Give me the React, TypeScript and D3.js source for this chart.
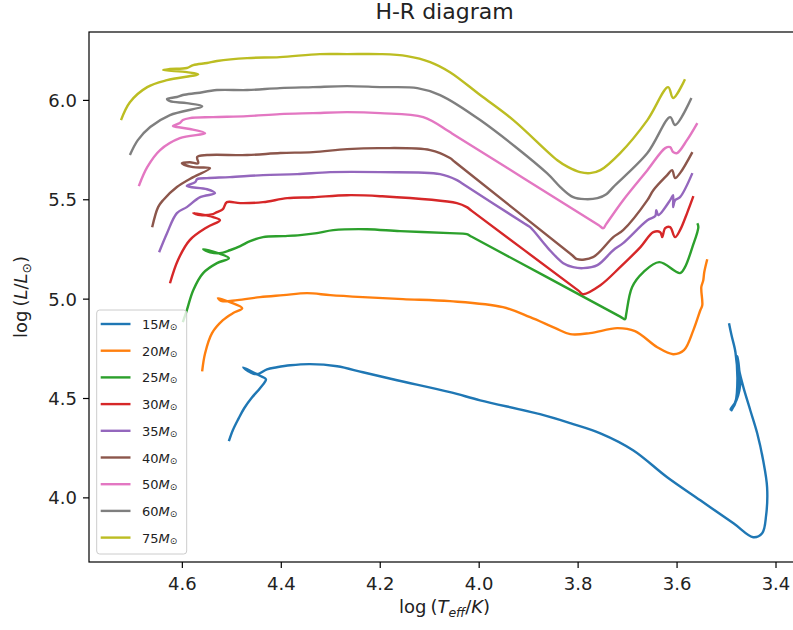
import React from "react";
import * as d3 from "d3";

type Pt = [number, number];

// Evolutionary tracks: [log Teff, log L/Lsun]
const track15: Pt[] = [
  [4.506, 4.285], [4.498, 4.34], [4.487, 4.396], [4.475, 4.451], [4.459, 4.506], [4.443, 4.552], [4.431, 4.597],
  [4.441, 4.612], [4.457, 4.632], [4.477, 4.657], [4.463, 4.632], [4.449, 4.622], [4.429, 4.647], [4.409, 4.657],
  [4.382, 4.667], [4.342, 4.673], [4.287, 4.662], [4.235, 4.632], [4.166, 4.592], [4.059, 4.532], [3.998, 4.491],
  [3.877, 4.421], [3.816, 4.376], [3.755, 4.325], [3.689, 4.24], [3.62, 4.104], [3.553, 3.988], [3.486, 3.872],
  [3.446, 3.802], [3.428, 3.822], [3.42, 3.912], [3.418, 4.053], [3.426, 4.189], [3.438, 4.325], [3.452, 4.441],
  [3.466, 4.557], [3.476, 4.657], [3.48, 4.708], [3.472, 4.592], [3.48, 4.491], [3.492, 4.446], [3.484, 4.466],
  [3.474, 4.617], [3.478, 4.713], [3.474, 4.567], [3.484, 4.471], [3.49, 4.441], [3.482, 4.481], [3.478, 4.602],
  [3.482, 4.733], [3.49, 4.819], [3.495, 4.879],
];
const track20: Pt[] = [
  [4.56, 4.637], [4.554, 4.728], [4.54, 4.829], [4.518, 4.894], [4.498, 4.929], [4.479, 4.954], [4.504, 4.985],
  [4.528, 5.005], [4.52, 4.99], [4.489, 4.995], [4.443, 5.01], [4.396, 5.02], [4.348, 5.03], [4.301, 5.02],
  [4.235, 5.01], [4.154, 5.0], [4.059, 4.99], [3.952, 4.96], [3.897, 4.909], [3.846, 4.854], [3.816, 4.824],
  [3.776, 4.829], [3.721, 4.854], [3.685, 4.839], [3.64, 4.758], [3.608, 4.723], [3.586, 4.743], [3.567, 4.844],
  [3.553, 4.944], [3.549, 4.97], [3.551, 5.06], [3.547, 5.095], [3.545, 5.136], [3.539, 5.201],
];
const track25: Pt[] = [
  [4.599, 4.884], [4.591, 4.944], [4.578, 5.045], [4.558, 5.131], [4.53, 5.181], [4.506, 5.206], [4.528, 5.231],
  [4.558, 5.251], [4.544, 5.236], [4.524, 5.231], [4.504, 5.246], [4.483, 5.267], [4.463, 5.292], [4.437, 5.312],
  [4.396, 5.317], [4.362, 5.322], [4.328, 5.332], [4.295, 5.347], [4.227, 5.352], [4.16, 5.342], [4.059, 5.332],
  [4.025, 5.327], [4.015, 5.314], [3.715, 4.912], [3.705, 4.899], [3.703, 4.922], [3.691, 5.06], [3.668, 5.136],
  [3.636, 5.186], [3.594, 5.131], [3.584, 5.161], [3.569, 5.262], [3.557, 5.362], [3.559, 5.382],
];
const track30: Pt[] = [
  [4.625, 5.08], [4.609, 5.196], [4.585, 5.297], [4.55, 5.362], [4.524, 5.397], [4.538, 5.413], [4.578, 5.433],
  [4.564, 5.423], [4.538, 5.428], [4.53, 5.438], [4.518, 5.453], [4.51, 5.488], [4.483, 5.483], [4.437, 5.488],
  [4.388, 5.508], [4.336, 5.513], [4.267, 5.523], [4.2, 5.518], [4.045, 5.483], [4.025, 5.463], [4.015, 5.444],
  [3.8, 5.044], [3.79, 5.025], [3.755, 5.07], [3.715, 5.161], [3.674, 5.262], [3.648, 5.337], [3.634, 5.337],
  [3.63, 5.312], [3.624, 5.357], [3.614, 5.362], [3.604, 5.312], [3.594, 5.347], [3.579, 5.438], [3.567, 5.518],
];
const track35: Pt[] = [
  [4.647, 5.236], [4.631, 5.332], [4.611, 5.433], [4.591, 5.463], [4.564, 5.513], [4.534, 5.533], [4.55, 5.553],
  [4.591, 5.569], [4.574, 5.589], [4.57, 5.604], [4.55, 5.609], [4.504, 5.614], [4.437, 5.624], [4.368, 5.629],
  [4.301, 5.639], [4.2, 5.639], [4.079, 5.629], [4.045, 5.599], [4.035, 5.583], [3.907, 5.378], [3.897, 5.362],
  [3.861, 5.257], [3.83, 5.181], [3.81, 5.161], [3.79, 5.156], [3.761, 5.171], [3.729, 5.246], [3.709, 5.282],
  [3.66, 5.397], [3.644, 5.418], [3.642, 5.448], [3.638, 5.423], [3.614, 5.498], [3.608, 5.523], [3.608, 5.463],
  [3.604, 5.498], [3.594, 5.513], [3.569, 5.634],
];
const track40: Pt[] = [
  [4.661, 5.362], [4.649, 5.463], [4.639, 5.498], [4.611, 5.564], [4.578, 5.614], [4.544, 5.659], [4.578, 5.664],
  [4.601, 5.684], [4.585, 5.689], [4.568, 5.684], [4.57, 5.715], [4.55, 5.725], [4.469, 5.725], [4.402, 5.735],
  [4.336, 5.74], [4.267, 5.755], [4.2, 5.76], [4.099, 5.75], [4.059, 5.71], [4.049, 5.69], [3.812, 5.221],
  [3.802, 5.201], [3.77, 5.211], [3.729, 5.312], [3.709, 5.347], [3.66, 5.498], [3.648, 5.548], [3.62, 5.624],
  [3.61, 5.649], [3.604, 5.609], [3.594, 5.634], [3.569, 5.74],
];
const track50: Pt[] = [
  [4.688, 5.569], [4.671, 5.664], [4.645, 5.75], [4.605, 5.81], [4.554, 5.835], [4.585, 5.856], [4.611, 5.866],
  [4.619, 5.871], [4.605, 5.886], [4.599, 5.901], [4.585, 5.911], [4.538, 5.916], [4.469, 5.921], [4.403, 5.931],
  [4.336, 5.936], [4.267, 5.941], [4.2, 5.936], [4.113, 5.916], [4.065, 5.85], [4.055, 5.834], [3.759, 5.373],
  [3.749, 5.357], [3.744, 5.375], [3.709, 5.498], [3.66, 5.649], [3.624, 5.76], [3.614, 5.765], [3.608, 5.74],
  [3.6, 5.735], [3.58, 5.8], [3.559, 5.886],
];
const track60: Pt[] = [
  [4.706, 5.725], [4.69, 5.8], [4.665, 5.866], [4.625, 5.926], [4.56, 5.971], [4.591, 5.986], [4.625, 5.996],
  [4.631, 6.007], [4.611, 6.017], [4.599, 6.027], [4.57, 6.037], [4.53, 6.052], [4.469, 6.052], [4.403, 6.062],
  [4.336, 6.067], [4.267, 6.072], [4.2, 6.067], [4.125, 6.062], [4.079, 6.027], [3.998, 5.901], [3.863, 5.634],
  [3.836, 5.564], [3.81, 5.513], [3.786, 5.503], [3.761, 5.508], [3.743, 5.528], [3.729, 5.564], [3.66, 5.735],
  [3.614, 5.916], [3.604, 5.876], [3.571, 6.012],
];
const track75: Pt[] = [
  [4.724, 5.901], [4.706, 5.991], [4.671, 6.067], [4.631, 6.102], [4.568, 6.132], [4.591, 6.142], [4.639, 6.153],
  [4.625, 6.158], [4.591, 6.163], [4.578, 6.178], [4.55, 6.188], [4.53, 6.198], [4.469, 6.213], [4.403, 6.218],
  [4.322, 6.233], [4.267, 6.233], [4.2, 6.233], [4.146, 6.223], [4.099, 6.193], [4.059, 6.142], [3.998, 6.027],
  [3.931, 5.901], [3.842, 5.699], [3.82, 5.664], [3.796, 5.639], [3.776, 5.634], [3.755, 5.649], [3.715, 5.735],
  [3.66, 5.901], [3.618, 6.067], [3.608, 6.012], [3.584, 6.107],
];

const masses = [15, 20, 25, 30, 35, 40, 50, 60, 75];
const tracks = [track15, track20, track25, track30, track35, track40, track50, track60, track75];
const colors = ["#1f77b4", "#ff7f0e", "#2ca02c", "#d62728", "#9467bd", "#8c564b", "#e377c2", "#7f7f7f", "#bcbd22"];

const xTicks = [4.6, 4.4, 4.2, 4.0, 3.8, 3.6, 3.4];
const yTicks = [4.0, 4.5, 5.0, 5.5, 6.0];
const xLimits: [number, number] = [4.7887, 3.3515];
const yLimits: [number, number] = [3.6773, 6.3442];

const W = 793;
const H = 630;
const plot = { left: 89, right: 800, top: 32, bottom: 562 };
const FONT = "DejaVu Sans, sans-serif";

export default function App() {
  const x = d3.scaleLinear().domain(xLimits).range([plot.left, plot.right]);
  const y = d3.scaleLinear().domain(yLimits).range([plot.bottom, plot.top]);
  const line = d3
    .line<Pt>()
    .x((d) => x(d[0]))
    .y((d) => y(d[1]))
    .curve(d3.curveCatmullRom.alpha(0.5));

  const legend = { x: 96.7, y: 310, w: 90, h: 244, row0: 324, step: 26.7 };

  return (
    <svg
      width={W}
      height={H}
      style={{ position: "absolute", left: 0, top: 0, background: "#fff" }}
      fontFamily={FONT}
    >
      <defs>
        <clipPath id="plot-area">
          <rect x={plot.left} y={plot.top} width={plot.right - plot.left} height={plot.bottom - plot.top} />
        </clipPath>
      </defs>
      <rect x={0} y={0} width={W} height={H} fill="#fff" />

      <g clipPath="url(#plot-area)">
        {tracks.map((t, i) => (
          <path
            key={masses[i]}
            d={line(t) ?? ""}
            fill="none"
            stroke={colors[i]}
            strokeWidth={2.4}
            strokeLinejoin="round"
            strokeLinecap="butt"
          />
        ))}
      </g>

      {/* spines */}
      <rect
        x={plot.left}
        y={plot.top}
        width={plot.right - plot.left}
        height={plot.bottom - plot.top}
        fill="none"
        stroke="#000"
        strokeWidth={1.2}
      />

      {/* x ticks */}
      {xTicks.map((t) => (
        <g key={t}>
          <line x1={x(t)} x2={x(t)} y1={plot.bottom} y2={plot.bottom + 6} stroke="#000" strokeWidth={1.2} />
          <text x={x(t)} y={590} fontSize={18} textAnchor="middle" fill="#222">
            {t.toFixed(1)}
          </text>
        </g>
      ))}

      {/* y ticks */}
      {yTicks.map((t) => (
        <g key={t}>
          <line x1={plot.left - 6} x2={plot.left} y1={y(t)} y2={y(t)} stroke="#000" strokeWidth={1.2} />
          <text x={77} y={y(t)} fontSize={18} textAnchor="end" dominantBaseline="central" fill="#222">
            {t.toFixed(1)}
          </text>
        </g>
      ))}

      {/* title */}
      <text x={(plot.left + plot.right) / 2} y={18.5} fontSize={22} textAnchor="middle" fill="#222">
        H-R diagram
      </text>

      {/* x label */}
      <text x={(plot.left + plot.right) / 2} y={613} fontSize={18} textAnchor="middle" fill="#222">
        <tspan>log</tspan>
        <tspan dx={4}>(</tspan>
        <tspan fontStyle="italic">T</tspan>
        <tspan fontStyle="italic" fontSize={12.5} dy={4}>eff</tspan>
        <tspan dy={-4}>/</tspan>
        <tspan fontStyle="italic">K</tspan>
        <tspan>)</tspan>
      </text>

      {/* y label */}
      <text
        transform={`translate(27, ${(plot.top + plot.bottom) / 2}) rotate(-90)`}
        fontSize={18}
        textAnchor="middle"
        fill="#222"
      >
        <tspan>log</tspan>
        <tspan dx={4}>(</tspan>
        <tspan fontStyle="italic">L</tspan>
        <tspan>/</tspan>
        <tspan fontStyle="italic">L</tspan>
        <tspan fontSize={12.5} dy={4}>⊙</tspan>
        <tspan dy={-4}>)</tspan>
      </text>

      {/* legend */}
      <rect
        x={legend.x}
        y={legend.y}
        width={legend.w}
        height={legend.h}
        rx={3}
        fill="#fff"
        fillOpacity={0.8}
        stroke="#cccccc"
        strokeWidth={1}
      />
      {masses.map((m, i) => {
        const ry = legend.row0 + i * legend.step;
        return (
          <g key={m}>
            <line x1={100.7} x2={130.5} y1={ry} y2={ry} stroke={colors[i]} strokeWidth={2.4} />
            <text x={142} y={ry} fontSize={13} dominantBaseline="central" fill="#222">
              <tspan>{m}</tspan>
              <tspan fontStyle="italic">M</tspan>
              <tspan fontSize={9} dy={3}>⊙</tspan>
            </text>
          </g>
        );
      })}
    </svg>
  );
}
